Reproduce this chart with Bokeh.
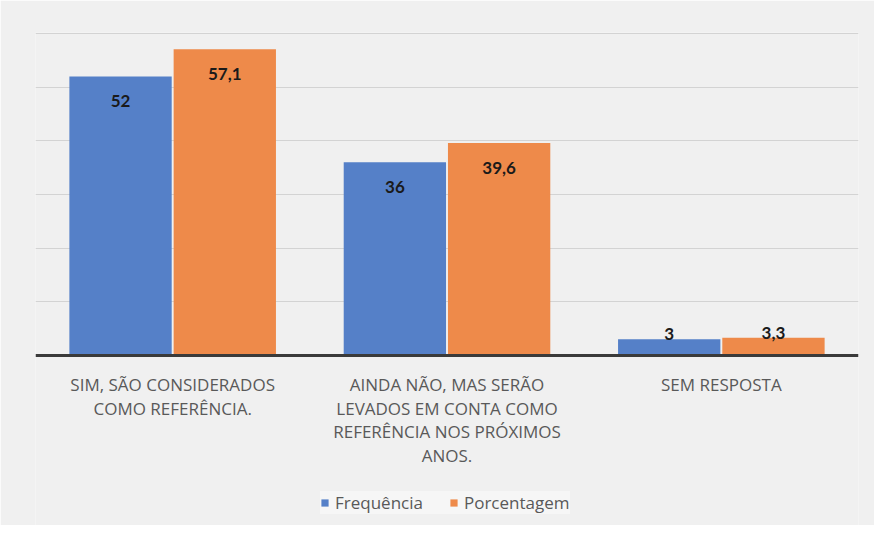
from bokeh.plotting import figure
from bokeh.models import ColumnDataSource, FactorRange, Legend, LegendItem, FixedTicker, Span
from bokeh.transform import dodge
from bokeh.core.properties import value
from bokeh.embed import file_html
from bokeh.resources import INLINE

categories = [
    "SIM, SÃO CONSIDERADOS\nCOMO REFERÊNCIA.",
    "AINDA NÃO, MAS SERÃO\nLEVADOS EM CONTA COMO\nREFERÊNCIA NOS PRÓXIMOS\nANOS.",
    "SEM RESPOSTA",
]
frequencia = [52, 36, 3]
porcentagem = [57.1, 39.6, 3.3]
grid_ticks = [10, 20, 30, 40, 50, 60]

BLUE = "#5580c8"
ORANGE = "#ee8a4a"
BG = "#f0f0f0"
FONT = "Open Sans"


def fmt(v):
    return f"{v:g}".replace(".", ",")


def off(v):
    return 25 if v > 10 else -5


src = ColumnDataSource(dict(
    cat=categories,
    zero=[0] * len(categories),
    freq=frequencia,
    pct=porcentagem,
    freq_lbl=[fmt(v) for v in frequencia],
    pct_lbl=[fmt(v) for v in porcentagem],
    freq_off=[off(v) for v in frequencia],
    pct_off=[off(v) for v in porcentagem],
))

p = figure(
    x_range=FactorRange(*categories),
    y_range=(-31.7, 60.2),
    width=874, height=525,
    output_backend="svg",
    toolbar_location=None,
    min_border_left=35, min_border_right=16,
    min_border_top=32, min_border_bottom=0,
    background_fill_color=BG, border_fill_color=BG,
    outline_line_color=None,
)

r1 = p.vbar(x=dodge("cat", -0.19, range=p.x_range), top="freq", width=0.373,
            source=src, fill_color=BLUE, line_color=None)
r2 = p.vbar(x=dodge("cat", 0.19, range=p.x_range), top="pct", width=0.373,
            source=src, fill_color=ORANGE, line_color=None)

for xo, col, lbl, of in [(-0.19, "freq", "freq_lbl", "freq_off"), (0.19, "pct", "pct_lbl", "pct_off")]:
    p.text(x=dodge("cat", xo, range=p.x_range), y=col, text=lbl, y_offset=of, source=src,
           text_align="center", text_baseline="middle", text_font=value("Lato"),
           text_font_style="bold", text_font_size="17px", text_color="#1a1a1a")

# category labels under the baseline
p.text(x="cat", y="zero", text="cat", source=src, y_offset=18,
       text_align="center", text_baseline="top", text_font=value(FONT),
       text_font_size="17px", text_color="#595959", text_line_height=1.02)

p.add_layout(Span(location=0, dimension="width", line_color="#3a3a3a", line_width=3))

p.xaxis.visible = False
p.yaxis.visible = False
p.xgrid.visible = False
p.ygrid.ticker = FixedTicker(ticks=grid_ticks)
p.ygrid.grid_line_color = "#d3d3d3"
p.ygrid.grid_line_width = 1

legend = Legend(
    items=[LegendItem(label="Frequência", renderers=[r1]),
           LegendItem(label="Porcentagem", renderers=[r2])],
    location=(285, 11),
    orientation="horizontal",
    glyph_width=9, glyph_height=9,
    label_standoff=6, spacing=26, padding=10, margin=0,
    label_text_font=FONT, label_text_font_size="17px", label_text_color="#595959",
    background_fill_color="#f6f6f6", background_fill_alpha=1.0,
    border_line_color=None,
)
p.add_layout(legend, "center")

open("out.html", "w").write(file_html(p, INLINE))
